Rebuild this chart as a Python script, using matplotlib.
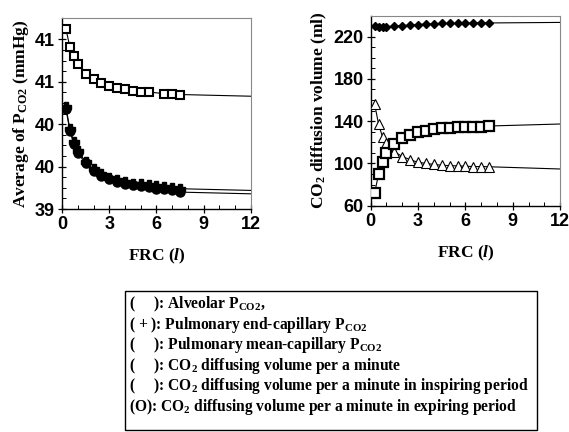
import numpy as np
import matplotlib.pyplot as plt
from matplotlib.patches import Rectangle
from matplotlib.ticker import MultipleLocator, FixedLocator

plt.rcParams['mathtext.fontset'] = 'custom'
plt.rcParams['mathtext.rm'] = 'Liberation Serif:bold'
plt.rcParams['mathtext.bf'] = 'Liberation Serif:bold'
plt.rcParams['mathtext.it'] = 'Liberation Serif:bold:italic'

# FRC sample points (litres)
frc = [0.25, 0.5, 0.75, 1.0, 1.5, 2.0, 2.5, 3.0, 3.5, 4.0, 4.5, 5.0, 5.5, 6.0, 6.5, 7.0, 7.5]
frc_alv = [0.25, 0.5, 0.75, 1.0, 1.5, 2.0, 2.5, 3.0, 3.5, 4.0, 4.5, 5.0, 5.5, 6.5, 7.0, 7.5]

# left panel: average PCO2 (mmHg)
alveolar = [41.12, 40.91, 40.80, 40.71, 40.59, 40.53, 40.48, 40.45, 40.43, 40.41, 40.39, 40.38, 40.38, 40.36, 40.36, 40.35]
end_cap = [40.20, 39.94, 39.79, 39.68, 39.56, 39.47, 39.41, 39.37, 39.34, 39.32, 39.30, 39.29, 39.28, 39.27, 39.26, 39.25, 39.24]
mean_cap = [40.18, 39.92, 39.77, 39.66, 39.54, 39.45, 39.39, 39.35, 39.32, 39.30, 39.28, 39.27, 39.26, 39.24, 39.24, 39.22, 39.20]

# right panel: CO2 diffusion volume (ml)
total_vol = [230, 229, 229, 229.5, 230, 230.5, 231, 231.5, 232, 232, 232.5, 232.5, 232.5, 232.5, 233, 233, 233]
insp_vol = [156, 137, 125, 119, 111, 106.5, 103.5, 101, 100, 99, 98.2, 97.9, 97.6, 97.3, 97, 97, 96.8]
exp_vol = [72, 90, 101.5, 109.5, 118, 124, 127, 129.5, 131, 132.5, 133.2, 133.8, 134.1, 134.4, 134.7, 134.8, 135.4]

# fitted curve continuation up to FRC = 12
ext_x = [7.5, 12]
alveolar_ext = [40.35, 40.33]
end_cap_ext = [39.24, 39.22]
mean_cap_ext = [39.20, 39.18]
total_ext = [233, 233.5]
insp_ext = [96.8, 94.7]
exp_ext = [135.4, 137.3]

left_ticks = [39, 39.5, 40, 40.5, 41]
left_labels = ['39', '40', '40', '41', '41']
right_ticks = [60, 100, 140, 180, 220]
x_ticks = [0, 3, 6, 9, 12]

legend_lines = [
    '(     ): Alveolar P$_{\\rm CO2}$,',
    '( + ): Pulmonary end-capillary P$_{\\rm CO2}$',
    '(     ): Pulmonary mean-capillary P$_{\\rm CO2}$',
    '(     ): CO$_2$ diffusing volume per a minute',
    '(     ): CO$_2$ diffusing volume per a minute in inspiring period',
    '(O): CO$_2$ diffusing volume per a minute in expiring period',
]

tick_font = {'family': 'Liberation Sans', 'weight': 'bold', 'size': 13}
label_font = {'family': 'Liberation Serif', 'weight': 'bold', 'size': 12.5}
legend_font = {'family': 'Liberation Serif', 'weight': 'bold', 'size': 11.2}

fig = plt.figure(figsize=(5.69, 4.32), dpi=100)
ax1 = fig.add_axes([0.109, 0.516, 0.332, 0.442])
ax2 = fig.add_axes([0.6515, 0.524, 0.333, 0.440])


def style_axes(ax):
    for s in ['top', 'right']:
        ax.spines[s].set_color('#888888')
    for s in ['left', 'bottom']:
        ax.spines[s].set_color('black')
        ax.spines[s].set_linewidth(1.0)
    ax.set_xlim(0, 12)
    ax.xaxis.set_major_locator(FixedLocator(x_ticks))
    ax.xaxis.set_minor_locator(MultipleLocator(1))
    ax.tick_params(which='major', direction='inout', length=6, width=0.9, top=False, right=False, pad=2)
    ax.tick_params(which='minor', direction='in', length=3, width=0.7, top=False, right=False)
    ax.set_xticklabels([str(t) for t in x_ticks], fontdict=tick_font)
    ax.set_xlabel('FRC ($l$)', fontdict=label_font, labelpad=10)


# left panel
ax1.plot(frc_alv, alveolar, color='black', lw=0.8, marker='s', ms=6, mfc='white', mec='black', mew=1.5, zorder=3)
ax1.plot(ext_x, alveolar_ext, color='black', lw=0.8)
ax1.plot(frc, end_cap, color='black', lw=0.8, marker='P', ms=7.5, mfc='black', mec='black', zorder=3)
ax1.plot(ext_x, end_cap_ext, color='black', lw=0.8)
ax1.plot(frc, mean_cap, color='black', lw=0.8, marker='o', ms=6.5, mfc='black', mec='black', zorder=4)
ax1.plot(ext_x, mean_cap_ext, color='black', lw=0.8)
style_axes(ax1)
ax1.set_ylim(39, 41.25)
ax1.yaxis.set_major_locator(FixedLocator(left_ticks))
ax1.yaxis.set_minor_locator(MultipleLocator(0.125))
ax1.set_yticklabels(left_labels, fontdict=tick_font)
ax1.set_ylabel('Average of P$_{\\rm CO2}$ (mmHg)', fontdict=label_font, labelpad=3)

# right panel
ax2.plot(frc, total_vol, color='black', lw=0.8, marker='D', ms=4, mfc='black', mec='black', zorder=3)
ax2.plot(ext_x, total_ext, color='black', lw=0.8)
ax2.plot(frc, insp_vol, color='black', lw=0.8, marker='^', ms=7, mfc='white', mec='black', mew=0.8, zorder=3)
ax2.plot(ext_x, insp_ext, color='black', lw=0.8)
ax2.plot(frc, exp_vol, color='black', lw=0.8, marker='s', ms=6.5, mfc='white', mec='black', mew=1.6, zorder=4)
ax2.plot(ext_x, exp_ext, color='black', lw=0.8)
style_axes(ax2)
ax2.set_ylim(60, 240)
ax2.yaxis.set_major_locator(FixedLocator(right_ticks))
ax2.yaxis.set_minor_locator(MultipleLocator(10))
ax2.set_yticklabels([str(t) for t in right_ticks], fontdict=tick_font)
ax2.set_ylabel('CO$_2$ diffusion volume (ml)', fontdict=label_font, labelpad=3)

# legend box
fig.patches.append(Rectangle((0.2197, 0.0046), 0.7241, 0.3214, transform=fig.transFigure,
                             fill=False, edgecolor='black', linewidth=1.0))
for i, line in enumerate(legend_lines):
    fig.text(0.226, 1 - (304 + 20.6 * i) / 432, line, fontdict=legend_font, va='center')

fig.savefig('out.png', dpi=100)
